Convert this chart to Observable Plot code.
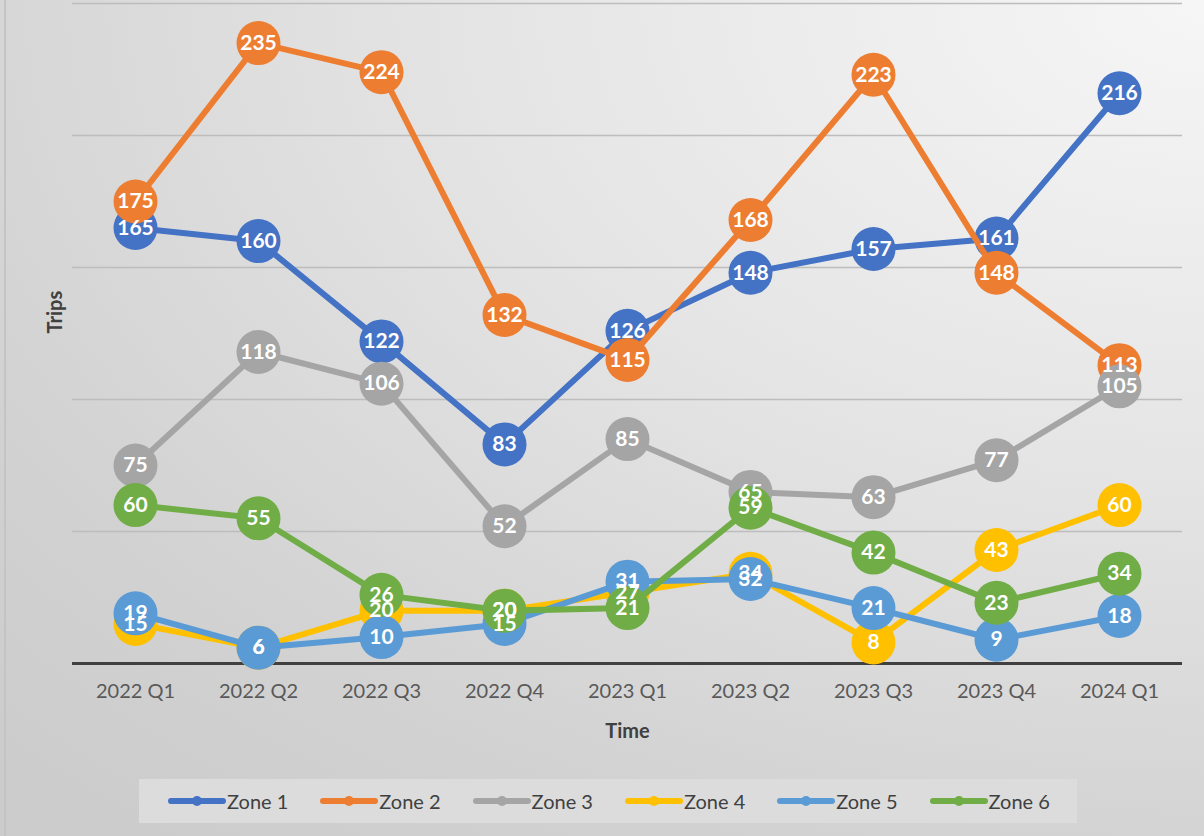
<!DOCTYPE html>
<html>
<head>
<meta charset="utf-8">
<script src="https://cdn.jsdelivr.net/npm/d3@7"></script>
<script src="https://cdn.jsdelivr.net/npm/@observablehq/plot@0.6"></script>
<style>
  html, body { margin: 0; padding: 0; }
  body {
    width: 1204px; height: 836px; overflow: hidden; position: relative;
    background: radial-gradient(ellipse 140% 130% at 100% 0%, #f6f6f6 0%, #e4e4e4 45%, #d2d2d2 80%, #cccccc 100%);
    font-family: Lato, "Open Sans", sans-serif;
  }
  #border { position: absolute; left: 4px; top: 0; width: 2px; height: 836px; background: #c4c4c4; }
  #chart { position: absolute; left: 0; top: 0; }
  #legend {
    position: absolute; left: 139px; top: 779px; width: 938px; height: 44px;
    background: #dcdcdc;
  }
  .item { position: absolute; top: 0; height: 44px; display: flex; align-items: center; }
  .item span { font-size: 20px; color: #404040; margin-left: 1px; }
</style>
</head>
<body>
<div id="border"></div>
<div id="chart"></div>
<div id="legend"></div>
<script>
const quarters = ["2022 Q1","2022 Q2","2022 Q3","2022 Q4","2023 Q1","2023 Q2","2023 Q3","2023 Q4","2024 Q1"];
const zones = ["Zone 1","Zone 2","Zone 3","Zone 4","Zone 5","Zone 6"];
const colors = ["#4472C4","#ED7D31","#A5A5A5","#FFC000","#5B9BD5","#70AD47"];
const zone1 = [165,160,122,83,126,148,157,161,216];
const zone2 = [175,235,224,132,115,168,223,148,113];
const zone3 = [75,118,106,52,85,65,63,77,105];
const zone4 = [15,6,20,20,27,34,8,43,60];
const zone5 = [19,6,10,15,31,32,21,9,18];
const zone6 = [60,55,26,20,21,59,42,23,34];
const gridValues = [50,100,150,200,250];

const series = [zone1, zone2, zone3, zone4, zone5, zone6];
const rows = [];
series.forEach((vals, si) => vals.forEach((v, qi) => rows.push({zone: zones[si], quarter: quarters[qi], value: v})));

const perSeries = [];
zones.forEach(z => {
  const d = rows.filter(r => r.zone === z);
  perSeries.push(Plot.line(d, {x: "quarter", y: "value", stroke: "zone", strokeWidth: 6, strokeLinejoin: "round", strokeLinecap: "round"}));
  perSeries.push(Plot.dot(d, {x: "quarter", y: "value", fill: "zone", r: 22}));
});

const chart = Plot.plot({
  width: 1204,
  height: 770,
  marginLeft: 72,
  marginRight: 22,
  marginTop: 3,
  marginBottom: 107,
  style: {background: "transparent", fontFamily: "Lato, 'Open Sans', sans-serif"},
  x: {type: "point", domain: quarters, padding: 0.5, axis: null},
  y: {domain: [0, 250], axis: null},
  color: {domain: zones, range: colors},
  marks: [
    Plot.ruleY(gridValues, {stroke: "#bdbdbd", strokeWidth: 1.5}),
    Plot.ruleY([0], {stroke: "#404040", strokeWidth: 3}),
    Plot.axisX({tickSize: 0, tickPadding: 20, fontSize: 20, color: "#595959", label: null}),
    ...perSeries,
    Plot.text(rows, {x: "quarter", y: "value", text: d => String(d.value), fill: "white", fontSize: 21, fontWeight: "bold"}),
    Plot.text(["Time"], {frameAnchor: "bottom", dy: 74, fontSize: 20, fontWeight: "bold", fill: "#404040"}),
    Plot.text(["Trips"], {frameAnchor: "left", dx: -17, rotate: -90, fontSize: 20, fontWeight: "bold", fill: "#404040"})
  ]
});
document.getElementById("chart").appendChild(chart);

const legend = document.getElementById("legend");
zones.forEach((z, i) => {
  const item = document.createElement("div");
  item.className = "item";
  item.style.left = (29 + i * 152.3) + "px";
  item.innerHTML = `<svg width="58" height="14"><line x1="3" y1="7" x2="55" y2="7" stroke="${colors[i]}" stroke-width="6" stroke-linecap="round"/><circle cx="29" cy="7" r="5" fill="${colors[i]}"/></svg><span>${z}</span>`;
  legend.appendChild(item);
});
</script>
</body>
</html>
